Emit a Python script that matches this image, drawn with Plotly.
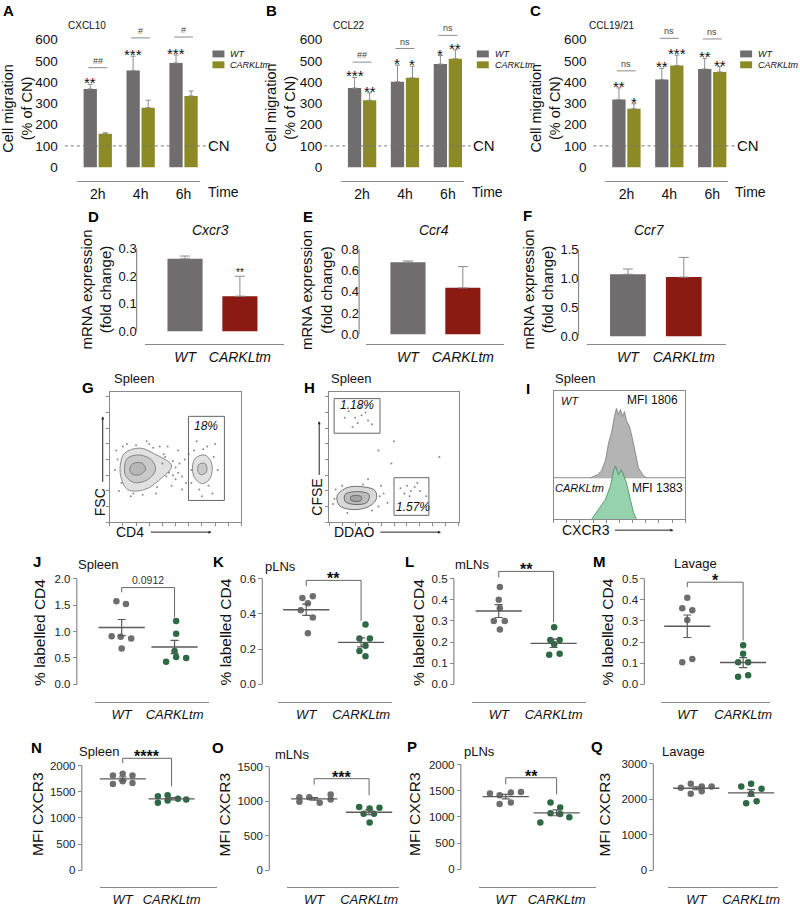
import numpy as np
import plotly.graph_objects as go

W, H = 800, 911
FONT = "Liberation Sans, Arial, sans-serif"

# ---- A-C: transwell migration, % of CN ----
TIMES = ["2h", "4h", "6h"]
CN = 100
CXCL10_WT = [368, 455, 490]
CXCL10_WT_ERR = [22, 67, 38]
CXCL10_KO = [157, 280, 335]
CXCL10_KO_ERR = [5, 35, 23]
CCL22_WT = [372, 402, 485]
CCL22_WT_ERR = [50, 78, 40]
CCL22_KO = [315, 420, 510]
CCL22_KO_ERR = [35, 55, 42]
CCL1921_WT = [318, 412, 462]
CCL1921_WT_ERR = [55, 53, 50]
CCL1921_KO = [275, 478, 448]
CCL1921_KO_ERR = [23, 49, 25]
CXCL10_SIG = (["**", "***", "***"], ["", "", ""], ["##", "#", "#"])
CCL22_SIG = (["***", "*", "*"], ["**", "*", "**"], ["##", "ns", "ns"])
CCL1921_SIG = (["**", "**", "**"], ["*", "***", "**"], ["ns", "ns", "ns"])
CXCL10_PAIR_Y = [468, 608, 612]
CCL22_PAIR_Y = [494, 558, 620]
CCL1921_PAIR_Y = [453, 606, 603]

# ---- D-F: mRNA fold change ----
GENOTYPES = ["WT", "CARKLtm"]
CXCR3_MRNA = [0.262, 0.127]
CXCR3_MRNA_ERR = [0.010, 0.072]
CCR4_MRNA = [0.679, 0.437]
CCR4_MRNA_ERR = [0.011, 0.20]
CCR7_MRNA = [1.07, 1.02]
CCR7_MRNA_ERR = [0.09, 0.34]
CXCR3_SIG = ["", "**"]
CCR4_SIG = ["", ""]
CCR7_SIG = ["", ""]

# ---- G-I: flow cytometry sketches ----
G_BIG_1_X = [11.4, 22.7, 34.1, 47.0, 37.9, 26.5, 13.6, 8.3, 8.3, 11.4]
G_BIG_1_Y = [53.0, 56.8, 52.3, 43.2, 32.6, 25.0, 25.0, 35.6, 45.5, 53.0]
G_BIG_2_X = [13.6, 22.7, 31.8, 34.8, 28.8, 18.9, 12.1, 11.4, 13.6]
G_BIG_2_Y = [49.2, 51.5, 47.7, 40.2, 32.6, 30.3, 35.6, 43.2, 49.2]
G_BIG_3_X = [17.4, 24.2, 27.3, 22.7, 16.7, 15.2, 17.4]
G_BIG_3_Y = [44.7, 45.5, 40.9, 36.4, 37.1, 40.9, 44.7]
G_CD4_1_X = [65.2, 72.0, 77.3, 76.5, 70.5, 64.4, 62.9, 65.2]
G_CD4_1_Y = [49.2, 51.5, 45.5, 34.1, 29.5, 34.1, 43.2, 49.2]
G_CD4_2_X = [68.2, 72.7, 73.5, 68.9, 66.7, 68.2]
G_CD4_2_Y = [44.7, 44.7, 38.6, 36.4, 40.2, 44.7]
G_EVENTS_X = [5, 9, 13, 30, 38, 42, 45, 48, 50, 52, 55, 57, 58, 60, 62, 55, 47, 44, 80, 82,
              78, 66, 70, 74, 35, 28, 16, 50, 53, 40, 43, 4, 6, 10, 20, 25, 33, 7, 18, 36,
              64, 68, 75, 79, 71, 62, 52, 48, 41]
G_EVENTS_Y = [55, 30, 60, 60, 58, 50, 38, 47, 42, 55, 35, 48, 30, 52, 40, 25, 28, 58, 60, 40,
              22, 62, 20, 58, 22, 62, 20, 33, 45, 45, 35, 40, 48, 58, 59, 21, 57, 24, 22, 27,
              55, 25, 28, 50, 56, 30, 38, 36, 52]
G_GATE = [59.8, 87.1, 16.7, 81.1]
G_PCT = "18%"

H_MAIN_1_X = [6.2, 13.8, 24.6, 35.4, 36.2, 29.2, 16.9, 7.7, 6.2]
H_MAIN_1_Y = [20.5, 26.5, 27.3, 24.2, 17.4, 11.4, 9.8, 12.9, 20.5]
H_MAIN_2_X = [12.3, 21.5, 30.8, 29.2, 20.0, 12.3, 12.3]
H_MAIN_2_Y = [21.2, 23.5, 21.2, 15.2, 13.6, 15.9, 21.2]
H_MAIN_3_X = [16.9, 24.6, 24.6, 16.9, 16.9]
H_MAIN_3_Y = [19.7, 19.7, 16.7, 16.7, 19.7]
H_EVENTS_X = [15, 20, 25, 22, 28, 18, 30, 12, 24, 33, 55, 60, 63, 58, 66, 62, 70, 68,
              42, 45, 3, 40, 30, 48, 38, 50, 75, 85, 5, 10, 38, 33, 14, 26, 39, 4]
H_EVENTS_Y = [85, 80, 82, 76, 84, 73, 78, 80, 88, 75, 26, 28, 24, 22, 27, 20, 24, 30,
              22, 15, 14, 28, 33, 45, 55, 62, 20, 50, 25, 28, 12, 9, 7, 29, 20, 18]
H_GATE_CFSE = [3.8, 39.2, 68.2, 94.7]
H_GATE_DDAO = [50.0, 76.9, 5.3, 34.1]
H_PCT = ["1.18%", "1.57%"]

I_SPLIT = 32.3
I_WT_X = [28.0, 33.3, 36.4, 39.4, 41.7, 43.9, 46.2, 47.7, 49.2, 50.8, 52.3, 53.8, 55.3,
          57.6, 59.8, 62.1, 64.4, 68.2, 70.5]
I_WT_Y = [32.3, 34.6, 37.7, 46.0, 59.2, 66.9, 80.0, 86.2, 81.5, 85.4, 80.0, 83.8, 76.9,
          72.3, 63.1, 51.5, 40.0, 33.8, 32.3]
I_KO_X = [28.8, 34.1, 39.4, 43.2, 45.5, 47.0, 49.2, 51.5, 53.0, 55.3, 58.3, 60.6, 62.9]
I_KO_Y = [0.0, 7.7, 15.4, 26.2, 37.7, 41.5, 34.6, 38.5, 34.6, 28.5, 15.4, 5.4, 0.0]
I_MFI = [1806, 1383]

# ---- J-Q: per-mouse values ----
J_WT = [1.57, 1.52, 0.91, 0.90, 0.87, 0.68]
J_KO = [1.20, 0.96, 0.63, 0.43, 0.52, 0.50]
K_WT = [0.49, 0.50, 0.46, 0.42, 0.38, 0.29]
K_KO = [0.34, 0.26, 0.26, 0.22, 0.19, 0.16]
L_WT = [0.46, 0.40, 0.36, 0.30, 0.30, 0.26]
L_KO = [0.27, 0.21, 0.21, 0.19, 0.14, 0.145]
M_WT = [0.41, 0.36, 0.35, 0.305, 0.105, 0.12]
M_KO = [0.185, 0.145, 0.105, 0.105, 0.036, 0.044]
N_WT = [1811, 1843, 1811, 1648, 1698, 1667]
N_KO = [1415, 1434, 1365, 1289, 1333, 1352]
O_WT = [1057, 1057, 1095, 990, 976, 1024]
O_KO = [914, 895, 905, 819, 819, 690]
P_WT = [1447, 1415, 1465, 1478, 1245, 1277]
P_KO = [1277, 1182, 1069, 1057, 994, 893]
Q_WT = [2318, 2430, 2355, 2355, 2150, 2224]
Q_KO = [2355, 2430, 2290, 2150, 1888, 1944]
J_BR, J_P = [1.74, 1.83, 1.27], "0.0912"
K_BR, K_P = [0.557, 0.59, 0.36], "**"
L_BR, L_P = [0.506, 0.534, 0.293], "**"
M_BR, M_P = [0.46, 0.483, 0.207], "*"
N_BR, N_P = [2044, 2138, 1604], "****"
O_BR, O_P = [1238, 1324, 1086], "***"
P_BR, P_P = [1623, 1748, 1434], "**"
Q_BR, Q_P = None, ""

# horizontal scatter of the dots (category units)
J_JIT = ([-0.10, 0.08, -0.19, -0.02, 0.18, 0.0], [0.03, 0.03, 0.0, -0.16, 0.03, 0.22])
K_JIT = ([-0.07, 0.12, 0.03, -0.10, 0.12, 0.03], [0.08, -0.03, 0.16, 0.08, -0.03, 0.08])
L_JIT = ([0.02, 0.0, 0.02, -0.09, 0.11, 0.02], [0.01, -0.06, 0.11, 0.01, -0.08, 0.11])
M_JIT = ([0.0, -0.09, 0.09, 0.0, -0.09, 0.09], [0.0, 0.0, -0.09, 0.09, -0.09, 0.09])
N_JIT = ([-0.2, 0.0, 0.2, -0.2, 0.0, 0.2], [-0.28, -0.08, 0.13, -0.28, -0.08, 0.3])
O_JIT = ([-0.27, -0.09, 0.3, -0.27, 0.1, 0.3], [-0.18, 0.01, 0.19, -0.1, 0.09, 0.01])
P_JIT = ([-0.31, -0.12, 0.1, 0.3, -0.12, 0.1], [-0.12, 0.07, -0.12, 0.07, 0.25, -0.32])
Q_JIT = ([-0.28, -0.1, 0.1, 0.28, -0.1, 0.1], [-0.18, 0.0, 0.19, 0.0, -0.09, 0.1])

WT_GRAY = "#6f6d6d"
OLIVE = "#8b8a25"
RED = "#8a1a12"
DOT_GRAY = "#6e6e6e"
DOT_GREEN = "#2d6a44"
AXC = "#8a8a8a"

fig = go.Figure()
LAY, ANN, SHP = {}, [], []
n_ax = [0]


def PX(px):
    return px / W


def PY(py):
    return 1 - py / H


def lin(pa, pb, va, vb, p):
    return va + (p - pa) * (vb - va) / (pb - pa)


def axes(xmap, xdom, ymap, ydom, xkw, ykw):
    n_ax[0] += 1
    s = "" if n_ax[0] == 1 else str(n_ax[0])
    (xpa, xpb), (xva, xvb) = xmap
    (ypa, ypb), (yva, yvb) = ymap
    xa = dict(domain=[PX(xdom[0]), PX(xdom[1])],
              range=[lin(xpa, xpb, xva, xvb, d) for d in xdom],
              showgrid=False, zeroline=False, anchor="y" + s)
    ya = dict(domain=[PY(ydom[0]), PY(ydom[1])],
              range=[lin(ypa, ypb, yva, yvb, d) for d in ydom],
              showgrid=False, zeroline=False, anchor="x" + s)
    xa.update(xkw)
    ya.update(ykw)
    LAY["xaxis" + s] = xa
    LAY["yaxis" + s] = ya
    return "x" + s, "y" + s


def text(px, py, s, size=12, color="#111", **kw):
    d = dict(x=PX(px), y=PY(py), xref="paper", yref="paper", text=s, showarrow=False,
             xanchor="center", yanchor="middle", font=dict(family=FONT, size=size, color=color))
    d.update(kw)
    ANN.append(d)


def letter(px, py, s):
    text(px, py, "<b>%s</b>" % s, size=15, color="#000")


def yline(axpx, yid, y0, y1):
    SHP.append(dict(type="line", xref="paper", yref=yid, x0=PX(axpx), x1=PX(axpx), y0=y0, y1=y1,
                    line=dict(color=AXC, width=1.2)))


def tf(size, color="#111"):
    return dict(family=FONT, size=size, color=color)


def arrow(px, py, ax, ay):
    ANN.append(dict(x=PX(px), y=PY(py), xref="paper", yref="paper", ax=ax, ay=ay, text="",
                    showarrow=True, arrowhead=2, arrowsize=0.6, arrowwidth=1, arrowcolor="#222"))


# ---------------- A-C ----------------
MIG_CFG = [
    dict(letter="A", lx=9, title="CXCL10", tx=87, groups=(98, 141), xline=(77, 200), yax=58,
         cn=(65, 207), cnx=220, timex=224, leg=213, ytx=18),
    dict(letter="B", lx=272, title="CCL22", tx=350, groups=(363, 406), xline=(342, 465), yax=323,
         cn=(325, 472), cnx=485, timex=489, leg=478, ytx=282),
    dict(letter="C", lx=537, title="CCL19/21", tx=613, groups=(628, 671), xline=(607, 730), yax=588,
         cn=(595, 737), cnx=750, timex=752, leg=742, ytx=547),
]
MIG_DATA = [
    (CXCL10_WT, CXCL10_WT_ERR, CXCL10_KO, CXCL10_KO_ERR, CXCL10_SIG, CXCL10_PAIR_Y),
    (CCL22_WT, CCL22_WT_ERR, CCL22_KO, CCL22_KO_ERR, CCL22_SIG, CCL22_PAIR_Y),
    (CCL1921_WT, CCL1921_WT_ERR, CCL1921_KO, CCL1921_KO_ERR, CCL1921_SIG, CCL1921_PAIR_Y),
]
BW, OFF_WT, OFF_KO = 0.31, -0.33, 0.02
for cfg, (wt, wte, ko, koe, sig, pair_y) in zip(MIG_CFG, MIG_DATA):
    xid, yid = axes((cfg["groups"], (0, 1)), cfg["xline"], ((166, 37), (0, 600)), (168, 12),
                    dict(anchor="free", position=PY(180), showline=True, linecolor=AXC, linewidth=1.2,
                         ticks="", tickvals=[0, 1, 2], ticktext=TIMES, tickfont=tf(14)),
                    dict(anchor="free", position=PX(cfg["yax"]), ticks="",
                         tickvals=list(range(0, 601, 100)), tickfont=tf(13.5)))
    xs = list(range(len(TIMES)))
    for vals, err, col, off in ((wt, wte, WT_GRAY, OFF_WT), (ko, koe, OLIVE, OFF_KO)):
        fig.add_trace(go.Bar(x=xs, y=vals, width=BW, offset=off, marker=dict(color=col, line=dict(width=0)),
                             error_y=dict(type="data", array=err, arrayminus=[0] * len(err), symmetric=False,
                                          color="#8c8c8c", thickness=1, width=2.5),
                             xaxis=xid, yaxis=yid, showlegend=False))
    for i in xs:
        for s, v, e, off in ((sig[0][i], wt[i], wte[i], OFF_WT), (sig[1][i], ko[i], koe[i], OFF_KO)):
            if s:
                ANN.append(dict(x=i + off + BW / 2, y=v + e, xref=xid, yref=yid, text=s, showarrow=False,
                                yanchor="bottom", yshift=-9, font=tf(15)))
        fig.add_trace(go.Scatter(x=[i - 0.22, i + 0.22], y=[pair_y[i]] * 2, mode="lines",
                                 line=dict(color="#8c8c8c", width=1), xaxis=xid, yaxis=yid,
                                 showlegend=False, hoverinfo="skip"))
        ANN.append(dict(x=i, y=pair_y[i], xref=xid, yref=yid, text=sig[2][i], showarrow=False,
                        yanchor="bottom", font=tf(9, "#444")))
    SHP.append(dict(type="line", xref="paper", yref=yid, x0=PX(cfg["cn"][0]), x1=PX(cfg["cn"][1]),
                    y0=CN, y1=CN, line=dict(color="#777", width=1, dash="dot")))
    ANN.append(dict(x=PX(cfg["cnx"]), y=CN, xref="paper", yref=yid, text="CN", showarrow=False,
                    xanchor="center", yanchor="middle", font=tf(15)))
    text(cfg["timex"], 191, "Time", 14)
    text(cfg["tx"], 23, cfg["title"], 10)
    letter(cfg["lx"], 8, cfg["letter"])
    text(cfg["ytx"], 106, "Cell migration<br>(% of CN)", 14.5, textangle=-90)
    lx = cfg["leg"]
    for (top, bot), col, lab in (((48, 55), WT_GRAY, GENOTYPES[0]), ((59, 66), OLIVE, GENOTYPES[1])):
        SHP.append(dict(type="rect", xref="paper", yref="paper", x0=PX(lx), x1=PX(lx + 12),
                        y0=PY(bot), y1=PY(top), fillcolor=col, line=dict(width=0)))
        text(lx + 16, (top + bot) / 2, "<i>%s</i>" % lab, 9, xanchor="left")

# ---------------- D-F ----------------
MRNA_CFG = [
    dict(letter="D", lp=(94, 216), title="Cxcr3", tp=(211, 230), yax=137, y0=332, y1=248, top=0.3,
         ticks=[0, 0.1, 0.2, 0.3], xline=(145, 285), cat=(185.5, 240.5), ytx=97),
    dict(letter="E", lp=(309, 216), title="Ccr4", tp=(435, 230), yax=360, y0=335, y1=249, top=0.8,
         ticks=[0, 0.2, 0.4, 0.6, 0.8], xline=(367, 505), cat=(409, 464), ytx=318),
    dict(letter="F", lp=(529, 215), title="Ccr7", tp=(651, 230), yax=580, y0=337, y1=249, top=1.5,
         ticks=[0, 0.5, 1.0, 1.5], xline=(588, 728), cat=(629.5, 685.5), ytx=540),
]
MRNA_DATA = [(CXCR3_MRNA, CXCR3_MRNA_ERR, CXCR3_SIG), (CCR4_MRNA, CCR4_MRNA_ERR, CCR4_SIG),
             (CCR7_MRNA, CCR7_MRNA_ERR, CCR7_SIG)]
for cfg, (vals, err, sig) in zip(MRNA_CFG, MRNA_DATA):
    xid, yid = axes((cfg["cat"], (0, 1)), cfg["xline"], ((cfg["y0"], cfg["y1"]), (0, cfg["top"])),
                    (cfg["y0"] + 1, cfg["y1"] - 4),
                    dict(anchor="free", position=PY(345), showline=True, linecolor=AXC, linewidth=1.2,
                         ticks="", tickvals=[0, 1], ticktext=["<i>%s</i>" % g for g in GENOTYPES],
                         tickfont=tf(14)),
                    dict(anchor="free", position=PX(cfg["yax"]), ticks="", tickvals=cfg["ticks"],
                         tickformat=".1f", tickfont=tf(13)))
    yline(cfg["yax"], yid, 0, cfg["top"])
    fig.add_trace(go.Bar(x=[0, 1], y=vals, width=0.64, marker=dict(color=[WT_GRAY, RED], line=dict(width=0)),
                         error_y=dict(type="data", array=err, arrayminus=[0, 0], symmetric=False,
                                      color="#8c8c8c", thickness=1, width=5),
                         xaxis=xid, yaxis=yid, showlegend=False))
    for i, s in enumerate(sig):
        if s:
            ANN.append(dict(x=i, y=vals[i] + err[i], xref=xid, yref=yid, text=s, showarrow=False,
                            yanchor="bottom", yshift=-4, font=tf(10)))
    text(cfg["tp"][0], cfg["tp"][1], "<i>%s</i>" % cfg["title"], 14)
    letter(cfg["lp"][0], cfg["lp"][1], cfg["letter"])
    text(cfg["ytx"], 290, "mRNA expression<br>(fold change)", 15, textangle=-90)

# ---------------- G-I ----------------
BOX_X = dict(showline=True, mirror=True, linecolor=AXC, linewidth=1, ticks="outside", ticklen=3,
             tickcolor=AXC, showticklabels=False, dtick=10)
BOX_Y = dict(showline=True, mirror=True, linecolor=AXC, linewidth=1, ticks="outside", ticklen=3,
             tickcolor=AXC, showticklabels=False, dtick=12)

xg, yg = axes(((110, 242), (0, 100)), (110, 242), ((525, 393), (0, 100)), (525, 393), BOX_X, BOX_Y)
fig.add_trace(go.Scatter(x=G_EVENTS_X, y=G_EVENTS_Y, mode="markers", marker=dict(size=2, color="#8a8a8a"),
                         xaxis=xg, yaxis=yg, showlegend=False))
for rx, ry in ((G_BIG_1_X, G_BIG_1_Y), (G_BIG_2_X, G_BIG_2_Y), (G_BIG_3_X, G_BIG_3_Y),
               (G_CD4_1_X, G_CD4_1_Y), (G_CD4_2_X, G_CD4_2_Y)):
    fig.add_trace(go.Scatter(x=rx, y=ry, mode="lines", line=dict(color="#707070", width=0.8, shape="spline"),
                             fill="toself", fillcolor="rgba(120,120,120,0.22)", xaxis=xg, yaxis=yg,
                             showlegend=False))
SHP.append(dict(type="rect", xref=xg, yref=yg, x0=G_GATE[0], x1=G_GATE[1], y0=G_GATE[2], y1=G_GATE[3],
                line=dict(color="#666", width=1)))
text(207, 428, "<i>%s</i>" % G_PCT, 12)
letter(88, 389, "G")
text(134, 380, "Spleen", 13)
text(101, 505, "FSC", 14, textangle=-90)
arrow(103, 418, 0, 67)
text(130, 535, "CD4", 14)
arrow(212, 535, -62, 0)

xh, yh = axes(((330, 460), (0, 100)), (330, 460), ((525, 393), (0, 100)), (525, 393), BOX_X, BOX_Y)
fig.add_trace(go.Scatter(x=H_EVENTS_X, y=H_EVENTS_Y, mode="markers", marker=dict(size=2, color="#8a8a8a"),
                         xaxis=xh, yaxis=yh, showlegend=False))
for rx, ry in ((H_MAIN_1_X, H_MAIN_1_Y), (H_MAIN_2_X, H_MAIN_2_Y), (H_MAIN_3_X, H_MAIN_3_Y)):
    fig.add_trace(go.Scatter(x=rx, y=ry, mode="lines", line=dict(color="#555", width=0.8, shape="spline"),
                             fill="toself", fillcolor="rgba(100,100,100,0.25)", xaxis=xh, yaxis=yh,
                             showlegend=False))
for gate in (H_GATE_CFSE, H_GATE_DDAO):
    SHP.append(dict(type="rect", xref=xh, yref=yh, x0=gate[0], x1=gate[1], y0=gate[2], y1=gate[3],
                    line=dict(color="#666", width=1)))
text(358, 406, "<i>%s</i>" % H_PCT[0], 12)
text(414, 510, "<i>%s</i>" % H_PCT[1], 12)
letter(310, 389, "H")
text(352, 380, "Spleen", 13)
text(317, 500, "CFSE", 14, textangle=-90)
arrow(320, 423, 0, 55)
text(355, 535, "DDAO", 14)
arrow(442, 535, -62, 0)

xi, yi = axes(((555, 687), (0, 100)), (555, 687), ((522, 392), (0, 100)), (522, 392),
              BOX_X, dict(BOX_Y, ticks=""))
SHP.append(dict(type="line", xref="paper", yref=yi, x0=PX(555), x1=PX(687), y0=I_SPLIT, y1=I_SPLIT,
                line=dict(color="#888", width=1), layer="below"))
fig.add_trace(go.Scatter(x=I_WT_X, y=I_WT_Y, mode="lines", fill="toself", fillcolor="#b4b4b4",
                         line=dict(color="#7a7a7a", width=0.8), xaxis=xi, yaxis=yi, showlegend=False))
fig.add_trace(go.Scatter(x=I_KO_X, y=I_KO_Y, mode="lines", fill="toself", fillcolor="#96d2ae",
                         line=dict(color="#3f8a60", width=0.8), xaxis=xi, yaxis=yi, showlegend=False))
text(571, 402, "<i>WT</i>", 11)
text(654, 401, "MFI %d" % I_MFI[0], 12)
text(581, 490, "<i>CARKLtm</i>", 11)
text(659, 490, "MFI %d" % I_MFI[1], 12)
letter(529, 390, "I")
text(576, 380, "Spleen", 13)
text(587, 533, "CXCR3", 14)
arrow(675, 533, -60, 0)

# ---------------- J-Q ----------------
DOT_CFG = [
    dict(letter="J", lp=(37, 565), title="Spleen", tp=(98, 568), yax=77, y0=689, y1=582, top=2.0,
         ticks=[0, 0.5, 1.0, 1.5, 2.0], fmt=".1f", xl=(95, 210), cat=(122, 175), xpy=707, ytop=570,
         ytitle="% labelled CD4", ytp=(39, 636)),
    dict(letter="K", lp=(219, 565), title="pLNs", tp=(281, 570), yax=263, y0=689, y1=582, top=0.6,
         ticks=[0, 0.2, 0.4, 0.6], fmt=".1f", xl=(279, 393), cat=(307, 362), xpy=707, ytop=565,
         ytitle="% labelled CD4", ytp=(226, 636)),
    dict(letter="L", lp=(411, 565), title="mLNs", tp=(473, 568), yax=455, y0=689, y1=582, top=0.5,
         ticks=[0, 0.1, 0.2, 0.3, 0.4, 0.5], fmt=".1f", xl=(473, 587), cat=(500, 555), xpy=707,
         ytop=565, ytitle="% labelled CD4", ytp=(419, 636)),
    dict(letter="M", lp=(601, 565), title="Lavage", tp=(697, 567), yax=646, y0=689, y1=582, top=0.5,
         ticks=[0, 0.1, 0.2, 0.3, 0.4, 0.5], fmt=".1f", xl=(663, 772), cat=(689, 745), xpy=707,
         ytop=565, ytitle="% labelled CD4", ytp=(609, 636)),
    dict(letter="N", lp=(37, 753), title="Spleen", tp=(99, 757), yax=82, y0=877, y1=771, top=2000,
         ticks=[0, 500, 1000, 1500, 2000], fmt="d", xl=(100, 218), cat=(123, 172), xpy=894,
         ytop=745, ytitle="MFI CXCR3", ytp=(38, 820)),
    dict(letter="O", lp=(219, 753), title="mLNs", tp=(293, 760), yax=270, y0=877, y1=772, top=1500,
         ticks=[0, 500, 1000, 1500], fmt="d", xl=(288, 400), cat=(315, 370), xpy=894, ytop=745,
         ytitle="MFI CXCR3", ytp=(226, 820)),
    dict(letter="P", lp=(413, 752), title="pLNs", tp=(481, 757), yax=462, y0=876, y1=770, top=2000,
         ticks=[0, 500, 1000, 1500, 2000], fmt="d", xl=(480, 597), cat=(507, 558), xpy=894, ytop=745,
         ytitle="MFI CXCR3", ytp=(416, 820)),
    dict(letter="Q", lp=(598, 752), title="Lavage", tp=(685, 757), yax=655, y0=877, y1=769, top=3000,
         ticks=[0, 1000, 2000, 3000], fmt="d", xl=(670, 780), cat=(698, 753), xpy=894, ytop=745,
         ytitle="MFI CXCR3", ytp=(607, 820)),
]
DOT_DATA = [(J_WT, J_KO, J_JIT, J_BR, J_P), (K_WT, K_KO, K_JIT, K_BR, K_P), (L_WT, L_KO, L_JIT, L_BR, L_P),
            (M_WT, M_KO, M_JIT, M_BR, M_P), (N_WT, N_KO, N_JIT, N_BR, N_P), (O_WT, O_KO, O_JIT, O_BR, O_P),
            (P_WT, P_KO, P_JIT, P_BR, P_P), (Q_WT, Q_KO, Q_JIT, Q_BR, Q_P)]
for cfg, (wt, ko, jit, br, p) in zip(DOT_CFG, DOT_DATA):
    xid, yid = axes((cfg["cat"], (0, 1)), cfg["xl"], ((cfg["y0"], cfg["y1"]), (0, cfg["top"])),
                    (cfg["y0"] + 6, cfg["ytop"]),
                    dict(anchor="free", position=PY(cfg["xpy"]), showline=True, linecolor=AXC, linewidth=1.2,
                         ticks="", tickvals=[0, 1], ticktext=["<i>%s</i>" % g for g in GENOTYPES],
                         tickfont=tf(13)),
                    dict(anchor="free", position=PX(cfg["yax"]), ticks="outside", ticklen=4, tickcolor=AXC,
                         tickvals=cfg["ticks"], tickformat=cfg["fmt"], tickfont=tf(11.5, "#222")))
    yline(cfg["yax"], yid, 0, cfg["top"])
    for k, (vals, col) in enumerate(((wt, DOT_GRAY), (ko, DOT_GREEN))):
        v = np.array(vals, dtype=float)
        fig.add_trace(go.Scatter(x=[k + j for j in jit[k]], y=vals, mode="markers",
                                 marker=dict(size=6.5, color=col), xaxis=xid, yaxis=yid, showlegend=False))
        sem = v.std(ddof=1) / np.sqrt(len(v))
        fig.add_trace(go.Scatter(x=[k], y=[v.mean()], mode="markers",
                                 marker=dict(symbol="line-ew-open", size=33, color="#5a5a5a",
                                             line=dict(color="#5a5a5a", width=1.4)),
                                 error_y=dict(type="data", array=[sem], color="#5a5a5a", thickness=1.2, width=4),
                                 xaxis=xid, yaxis=yid, showlegend=False))
    if br:
        fig.add_trace(go.Scatter(x=[0, 0, 1, 1], y=[br[0], br[1], br[1], br[2]], mode="lines",
                                 line=dict(color="#666", width=1), xaxis=xid, yaxis=yid,
                                 showlegend=False, hoverinfo="skip"))
        if p.startswith("*"):
            ANN.append(dict(x=0.5, y=br[1], xref=xid, yref=yid, text="<b>%s</b>" % p, showarrow=False,
                            yanchor="bottom", yshift=-9, font=tf(16)))
        else:
            ANN.append(dict(x=0.5, y=br[1], xref=xid, yref=yid, text=p, showarrow=False,
                            yanchor="bottom", font=tf(10.5, "#333")))
    letter(cfg["lp"][0], cfg["lp"][1], cfg["letter"])
    text(cfg["tp"][0], cfg["tp"][1], cfg["title"], 13)
    text(cfg["ytp"][0], cfg["ytp"][1], cfg["ytitle"], 15.5, textangle=-90)

fig.update_layout(width=W, height=H, margin=dict(l=0, r=0, t=0, b=0), plot_bgcolor="white",
                  paper_bgcolor="white", showlegend=False, annotations=ANN, shapes=SHP,
                  font=dict(family=FONT, color="#111"), **LAY)
# page body has a default 8px margin; drop it so the figure sits at the window's corner
fig.write_html("out.html", config={"displayModeBar": False},
               post_script="document.body.style.margin='0';")
